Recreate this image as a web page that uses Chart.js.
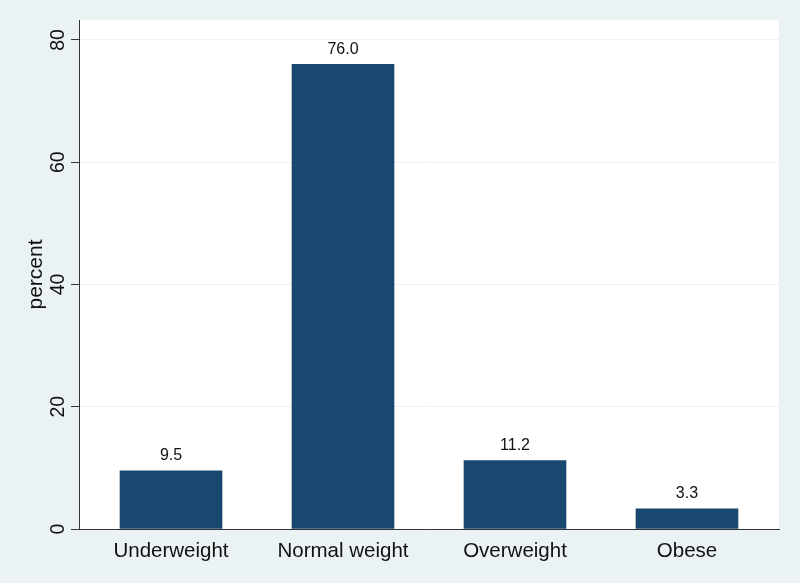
<!DOCTYPE html>
<html>
<head>
    <title>Weight categories</title>
    <script src="https://cdn.jsdelivr.net/npm/chart.js@4"></script>
    <style>
        html, body { margin: 0; padding: 0; background: #eaf2f3; }
        #wrap { width: 800px; height: 583px; }
    </style>
</head>
<body>
    <div id="wrap"><canvas id="bmiChart"></canvas></div>

    <script>
        // Data
        const categories = ['Underweight', 'Normal weight', 'Overweight', 'Obese'];
        const percents = [9.5, 76.0, 11.2, 3.3];
        const yTicks = [0, 20, 40, 60, 80];

        // value labels above bars
        const barLabels = {
            id: 'barLabels',
            afterDatasetsDraw(chart) {
                const ctx = chart.ctx;
                const meta = chart.getDatasetMeta(0);
                ctx.save();
                ctx.font = '16px "Liberation Sans", Arial, sans-serif';
                ctx.fillStyle = '#111';
                ctx.textAlign = 'center';
                ctx.textBaseline = 'bottom';
                meta.data.forEach((bar, i) => {
                    ctx.fillText(percents[i].toFixed(1), bar.x, bar.y - 7);
                });
                ctx.restore();
            }
        };

        // white plot region
        const plotBg = {
            id: 'plotBg',
            beforeDraw(chart) {
                const a = chart.chartArea;
                chart.ctx.save();
                chart.ctx.fillStyle = '#ffffff';
                chart.ctx.fillRect(a.left, a.top, a.right - a.left, a.bottom - a.top);
                chart.ctx.restore();
            }
        };

        const ctx = document.getElementById('bmiChart').getContext('2d');
        new Chart(ctx, {
            type: 'bar',
            data: {
                datasets: [{
                    data: percents.map((v, i) => ({ x: i, y: v })),
                    backgroundColor: '#1a476f',
                    barThickness: 102
                }]
            },
            options: {
                responsive: true,
                maintainAspectRatio: false,
                animation: false,
                layout: { padding: { top: 20, right: 21, left: 0, bottom: 0 } },
                plugins: { legend: { display: false }, tooltip: { enabled: false } },
                scales: {
                    x: {
                        type: 'linear',
                        offset: false,
                        min: -0.535,
                        max: 3.535,
                        afterBuildTicks: s => { s.ticks = categories.map((c, i) => ({ value: i })); },
                        afterFit: s => { s.height = 54; },
                        grid: { display: false, drawTicks: false },
                        border: { color: '#333', width: 1 },
                        ticks: {
                            padding: 10,
                            color: '#111',
                            font: { family: '"Liberation Sans", Arial, sans-serif', size: 20.5 },
                            callback: v => categories[v]
                        }
                    },
                    y: {
                        min: 0,
                        max: 83.27,
                        afterBuildTicks: s => { s.ticks = yTicks.map(v => ({ value: v })); },
                        afterFit: s => { s.width = 79; },
                        grid: { color: '#eaf2f3', tickColor: '#333', tickLength: 8, lineWidth: 1 },
                        border: { color: '#333', width: 1 },
                        title: {
                            display: true,
                            text: 'percent',
                            color: '#111',
                            padding: { top: 24, bottom: 0 },
                            font: { family: '"Liberation Sans", Arial, sans-serif', size: 21 }
                        },
                        ticks: {
                            minRotation: 90,
                            maxRotation: 90,
                            crossAlign: 'center',
                            padding: 2,
                            color: '#111',
                            font: { family: '"Liberation Sans", Arial, sans-serif', size: 19.5 }
                        }
                    }
                }
            },
            plugins: [plotBg, barLabels]
        });
    </script>
</body>
</html>
